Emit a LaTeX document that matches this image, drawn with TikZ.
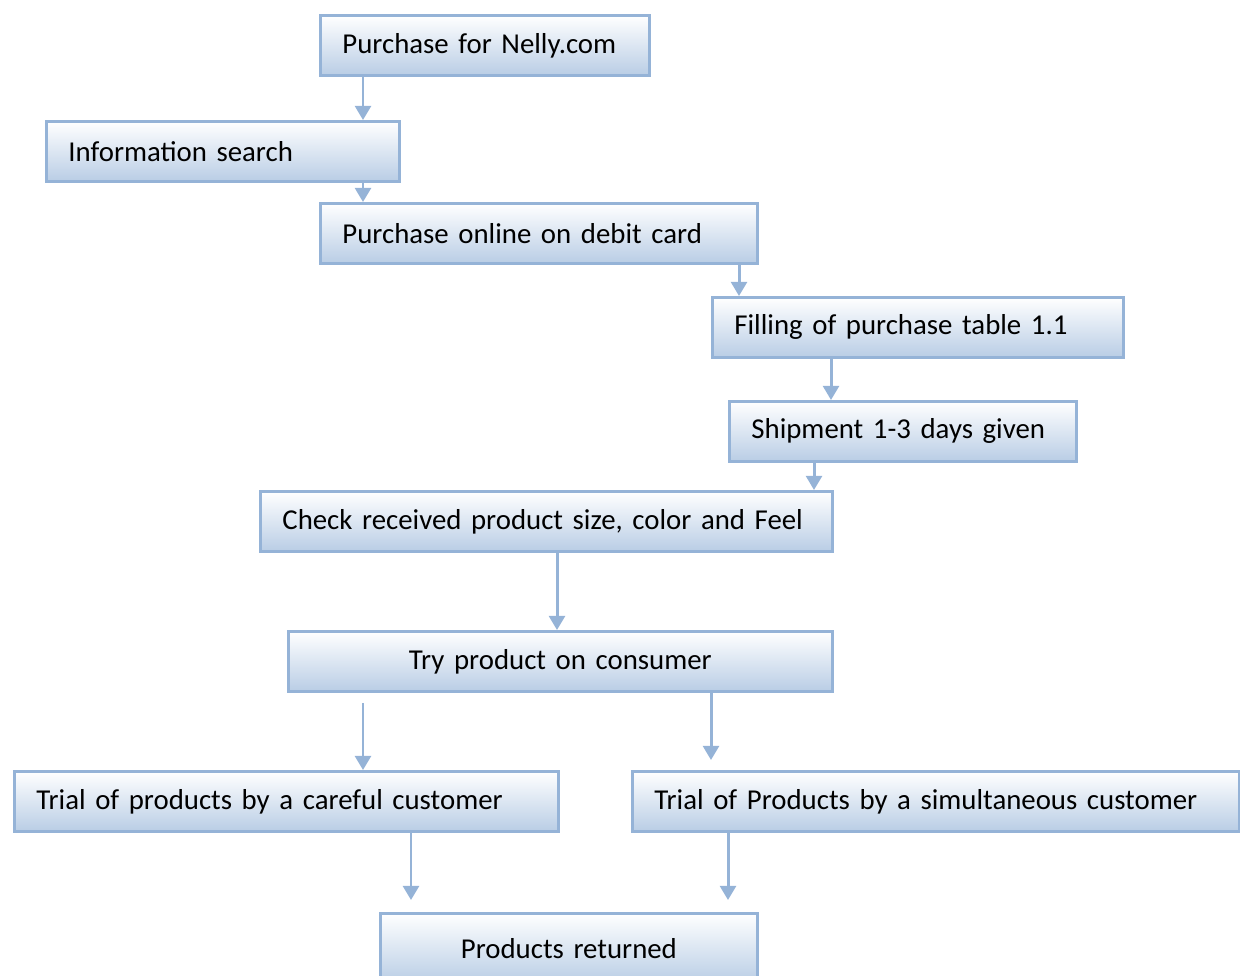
\documentclass[tikz,border=0pt]{standalone}
\usepackage{fontspec}
\setmainfont{Carlito}
\usetikzlibrary{arrows.meta,calc}
\definecolor{boxline}{RGB}{149,179,215}
\definecolor{boxfill}{RGB}{185,205,229}
\newcommand\flowfont{\fontsize{16.4}{19.7}\selectfont\spaceskip=3pt plus 1pt\relax}
\tikzset{
  flowbox/.style={draw=boxline,line width=1.6pt,top color=white,bottom color=boxfill,
    minimum height=1.2cm,inner xsep=0.44cm,inner ysep=0pt,anchor=north west,
    align=left,font=\flowfont},
  flowarr/.style={draw=boxline,line width=1.7pt,-{Triangle[width=9pt,length=8pt]}}
}
\begin{document}
\begin{tikzpicture}[x=0.02cm,y=-0.02cm]
	\useasboundingbox (0,0) rectangle (1240,976);
	\node[flowbox,text width=5.70cm] (buy) at (319,14) {Purchase for Nelly.com};
	\node[flowbox,text width=6.18cm] (info) at (45,120) {Information search};
	\node[flowbox,text width=7.86cm] (online) at (319,202) {Purchase online on debit card};
	\node[flowbox,text width=7.34cm] (fill) at (711,296) {Filling of purchase table 1.1};
	\node[flowbox,text width=6.06cm] (ship) at (728,400) {Shipment 1-3 days given};
	\node[flowbox,text width=10.56cm] (check) at (259,490) {Check received product size, color and Feel};
	\node[flowbox,text width=10.00cm,align=center] (try) at (287,630) {Try product on consumer};
	\node[flowbox,text width=10.00cm] (careful) at (13,770) {Trial of products by a careful customer};
	\node[flowbox,text width=11.26cm] (simul) at (631,770) {Trial of Products by a simultaneous customer};
	\node[flowbox,text width=6.66cm,align=center,minimum height=1.4cm] (ret) at (379,912) {Products returned};
	\draw[flowarr] ($(buy.south west)+(44,0)$) -- ($(info.north west)+(318,0)$);
	\draw[flowarr] ($(info.south west)+(318,0)$) -- ($(online.north west)+(44,0)$);
	\draw[flowarr] ($(online.south west)+(420,0)$) -- ($(fill.north west)+(28,0)$);
	\draw[flowarr] ($(fill.south west)+(120,0)$) -- ($(ship.north west)+(103,0)$);
	\draw[flowarr] ($(ship.south west)+(86,0)$) -- ($(check.north west)+(555,0)$);
	\draw[flowarr] ($(check.south west)+(298,0)$) -- ($(try.north west)+(270,0)$);
	\draw[flowarr] ($(try.south west)+(76,10)$) -- ($(careful.north west)+(350,0)$);
	\draw[flowarr] ($(try.south west)+(424,0)$) -- ($(simul.north west)+(80,-10)$);
	\draw[flowarr] ($(careful.south west)+(398,0)$) -- ($(ret.north west)+(32,-12)$);
	\draw[flowarr] ($(simul.south west)+(97,0)$) -- ($(ret.north west)+(349,-12)$);
\end{tikzpicture}
\end{document}
